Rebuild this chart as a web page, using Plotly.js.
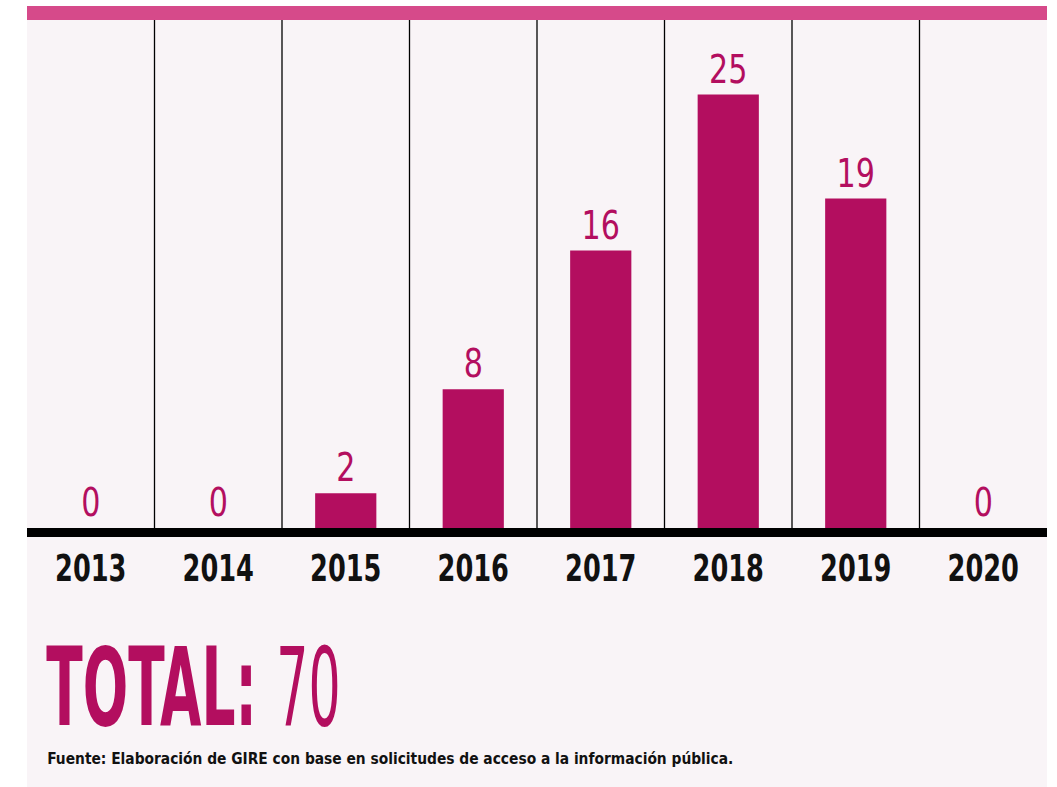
<!DOCTYPE html>
<html>
<head>
<meta charset="utf-8">
<script src="https://cdn.plot.ly/plotly-3.0.1.min.js"></script>
<style>
html,body{margin:0;padding:0;background:#ffffff;}
#chart{width:1057px;height:787px;}
</style>
</head>
<body>
<div id="chart"></div>
<script>
// ---- data ----
const years = ["2013", "2014", "2015", "2016", "2017", "2018", "2019", "2020"];
const counts = [0, 0, 2, 8, 16, 25, 19, 0];
const totalLabel = "TOTAL:";
const sourceText = "Fuente: Elaboración de GIRE con base en solicitudes de acceso a la información pública.";

const total = counts.reduce((a, b) => a + b, 0);

const FONT = '"DejaVu Sans Condensed", "Liberation Sans Narrow", "Roboto", sans-serif';
const MAGENTA = "#b30e5f";
const PANEL = "#f9f4f7";
const TOPBAR = "#d64a8a";

const trace = {
  type: "bar",
  x: years,
  y: counts,
  marker: { color: MAGENTA },
  text: counts.map(String),
  textposition: "outside",
  constraintext: "none",
  cliponaxis: false,
  textfont: { family: FONT, size: 39, color: MAGENTA },
  hoverinfo: "none"
};

const shapes = [];
shapes.push({ type: "rect", xref: "paper", yref: "paper", x0: 0, x1: 1, y0: -0.52, y1: 1,
  fillcolor: PANEL, line: { width: 0 }, layer: "below" });
shapes.push({ type: "rect", xref: "paper", yref: "paper", x0: 0, x1: 1, y0: 1, y1: 1.0276,
  fillcolor: TOPBAR, line: { width: 0 }, layer: "below" });
for (let i = 0; i < years.length - 1; i++) {
  shapes.push({ type: "line", xref: "x", yref: "paper", x0: i + 0.5, x1: i + 0.5, y0: 0, y1: 1,
    line: { color: "#000000", width: 1.3 }, layer: "below" });
}

const layout = {
  width: 1057,
  height: 787,
  margin: { l: 27, r: 10, t: 20, b: 259 },
  paper_bgcolor: "#ffffff",
  plot_bgcolor: "rgba(0,0,0,0)",
  showlegend: false,
  bargap: 0.52,
  font: { family: FONT },
  xaxis: {
    type: "category",
    range: [-0.5, years.length - 0.5],
    showgrid: false,
    zeroline: false,
    showline: true,
    linecolor: "#000000",
    linewidth: 9,
    ticks: "",
    ticklabelstandoff: 0,
    tickfont: { family: FONT, size: 37, color: "#111111", weight: "bold" },
    fixedrange: true
  },
  yaxis: {
    range: [0, 29.3],
    visible: false,
    showgrid: false,
    zeroline: false,
    fixedrange: true
  },
  shapes: shapes,
  annotations: [
    {
      xref: "paper", yref: "paper", x: 0.0176, y: -0.44, xanchor: "left", yanchor: "bottom",
      text: "<b>" + totalLabel + "</b>",
      showarrow: false,
      font: { family: FONT, size: 108, color: MAGENTA }
    },
    {
      xref: "paper", yref: "paper", x: 0.243, y: -0.44, xanchor: "left", yanchor: "bottom",
      text: String(total),
      showarrow: false,
      font: { family: FONT, size: 108, color: MAGENTA }
    },
    {
      xref: "paper", yref: "paper", x: 0.0176, y: -0.453, xanchor: "left", yanchor: "middle",
      text: sourceText,
      showarrow: false,
      font: { family: FONT, size: 16, color: "#111111", weight: 600 }
    }
  ]
};

// Narrow the glyphs horizontally (the original uses a compressed typeface) while keeping real text.
function squeeze(el, factor, keepLeft) {
  const b = el.getBBox();
  const px = keepLeft ? b.x : b.x + b.width / 2;
  const t = el.getAttribute("transform") || "";
  el.setAttribute("transform",
    t + " translate(" + px.toFixed(2) + ",0) scale(" + factor + ",1) translate(" + (-px).toFixed(2) + ",0)");
}

Plotly.newPlot("chart", [trace], layout, { displayModeBar: false, staticPlot: true }).then(function (gd) {
  gd.querySelectorAll(".xtick text").forEach(function (el) { squeeze(el, 0.77, false); });
  gd.querySelectorAll(".bartext").forEach(function (el) { squeeze(el, 0.86, false); });
  const ann = gd.querySelectorAll(".annotation-text");
  const factors = [0.55, 0.52, 0.96];
  ann.forEach(function (el, i) {
    // scale the group holding the text and its box together, anchored at the left edge
    const grp = el.parentNode || el;
    squeeze(grp, factors[i] || 1, true);
  });
});
</script>
</body>
</html>
